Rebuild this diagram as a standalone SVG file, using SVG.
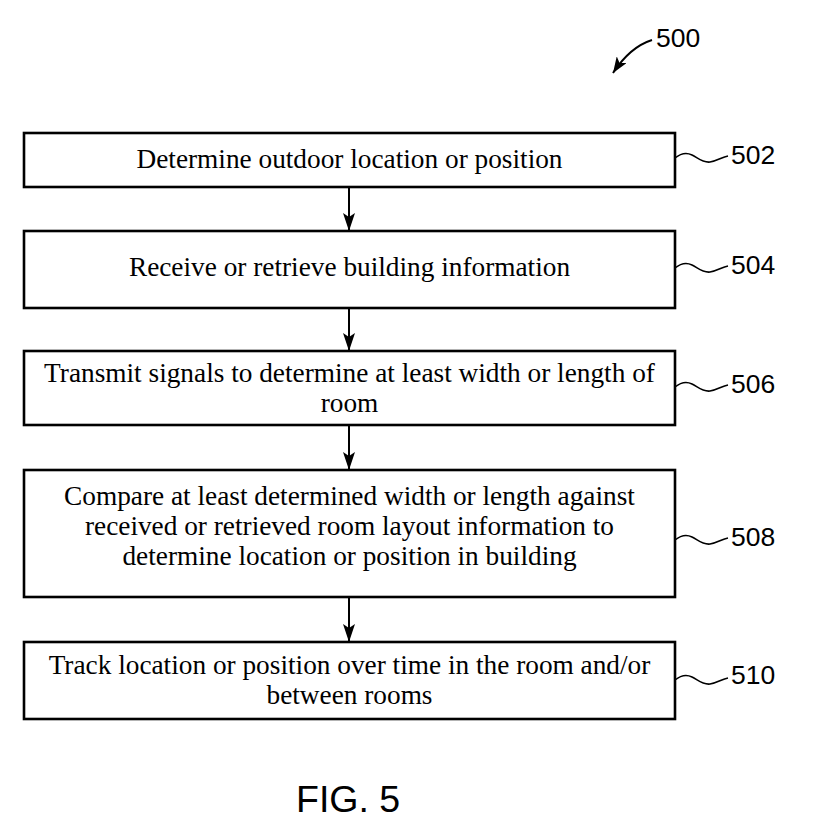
<svg xmlns="http://www.w3.org/2000/svg" width="829" height="831" viewBox="0 0 829 831">
<style>
.box{fill:#fff;stroke:#000;stroke-width:2.6}
.t{font-family:"Liberation Serif","Times New Roman",serif;font-size:27.3px;fill:#000;text-anchor:middle}
.lbl{font-family:"Liberation Sans",Arial,sans-serif;font-size:26.5px;fill:#000}
.sq{fill:none;stroke:#000;stroke-width:1.6}
.con{fill:none;stroke:#000;stroke-width:2}
</style>
<defs>
<marker id="ah" viewBox="0 0 18 12" refX="18" refY="6" markerWidth="18" markerHeight="12" markerUnits="userSpaceOnUse" orient="auto">
<path d="M0,0 L4,6 L0,12 L18,6 Z" fill="#000"/>
</marker>
<marker id="ah2" viewBox="0 0 16 12" refX="16" refY="6" markerWidth="16" markerHeight="12" markerUnits="userSpaceOnUse" orient="auto">
<path d="M0,0 L16,6 L0,12 L4,6 Z" fill="#000"/>
</marker>
<path id="sqg" class="sq" d="M0,0 c5,-4 11,-6 17,-3 c6,3 11,8 18,7 c7,-1 12,-5 18,-6"/>
</defs>

<g id="fig-ref">
<path class="con" d="M652,40 Q630,47 613,73" marker-end="url(#ah2)"/>
<text class="lbl" x="656" y="47">500</text>
</g>

<g id="connectors">
<line class="con" x1="349" y1="187" x2="349" y2="231" marker-end="url(#ah)"/>
<line class="con" x1="349" y1="308" x2="349" y2="351" marker-end="url(#ah)"/>
<line class="con" x1="349" y1="425" x2="349" y2="470" marker-end="url(#ah)"/>
<line class="con" x1="349" y1="597" x2="349" y2="642" marker-end="url(#ah)"/>
</g>

<g id="n502">
<rect class="box" x="24" y="133" width="651" height="54"/>
<text class="t" x="349.5" y="168">Determine outdoor location or position</text>
<use href="#sqg" x="675" y="158"/>
<text class="lbl" x="731" y="164">502</text>
</g>

<g id="n504">
<rect class="box" x="24" y="231" width="651" height="77"/>
<text class="t" x="349.5" y="276">Receive or retrieve building information</text>
<use href="#sqg" x="675" y="268"/>
<text class="lbl" x="731" y="274">504</text>
</g>

<g id="n506">
<rect class="box" x="24" y="351" width="651" height="74"/>
<text class="t" x="349.5" y="382">Transmit signals to determine at least width or length of</text>
<text class="t" x="349.5" y="412">room</text>
<use href="#sqg" x="675" y="387"/>
<text class="lbl" x="731" y="393">506</text>
</g>

<g id="n508">
<rect class="box" x="24" y="470" width="651" height="127"/>
<text class="t" x="349.5" y="505">Compare at least determined width or length against</text>
<text class="t" x="349.5" y="535">received or retrieved room layout information to</text>
<text class="t" x="349.5" y="565">determine location or position in building</text>
<use href="#sqg" x="675" y="540"/>
<text class="lbl" x="731" y="546">508</text>
</g>

<g id="n510">
<rect class="box" x="24" y="642" width="651" height="77"/>
<text class="t" x="349.5" y="674">Track location or position over time in the room and/or</text>
<text class="t" x="349.5" y="704">between rooms</text>
<use href="#sqg" x="675" y="680"/>
<text class="lbl" x="731" y="684">510</text>
</g>

<g id="caption">
<text x="296" y="812" font-family="Liberation Sans, Arial, sans-serif" font-size="37.5" fill="#000">FIG. 5</text>
</g>
</svg>
